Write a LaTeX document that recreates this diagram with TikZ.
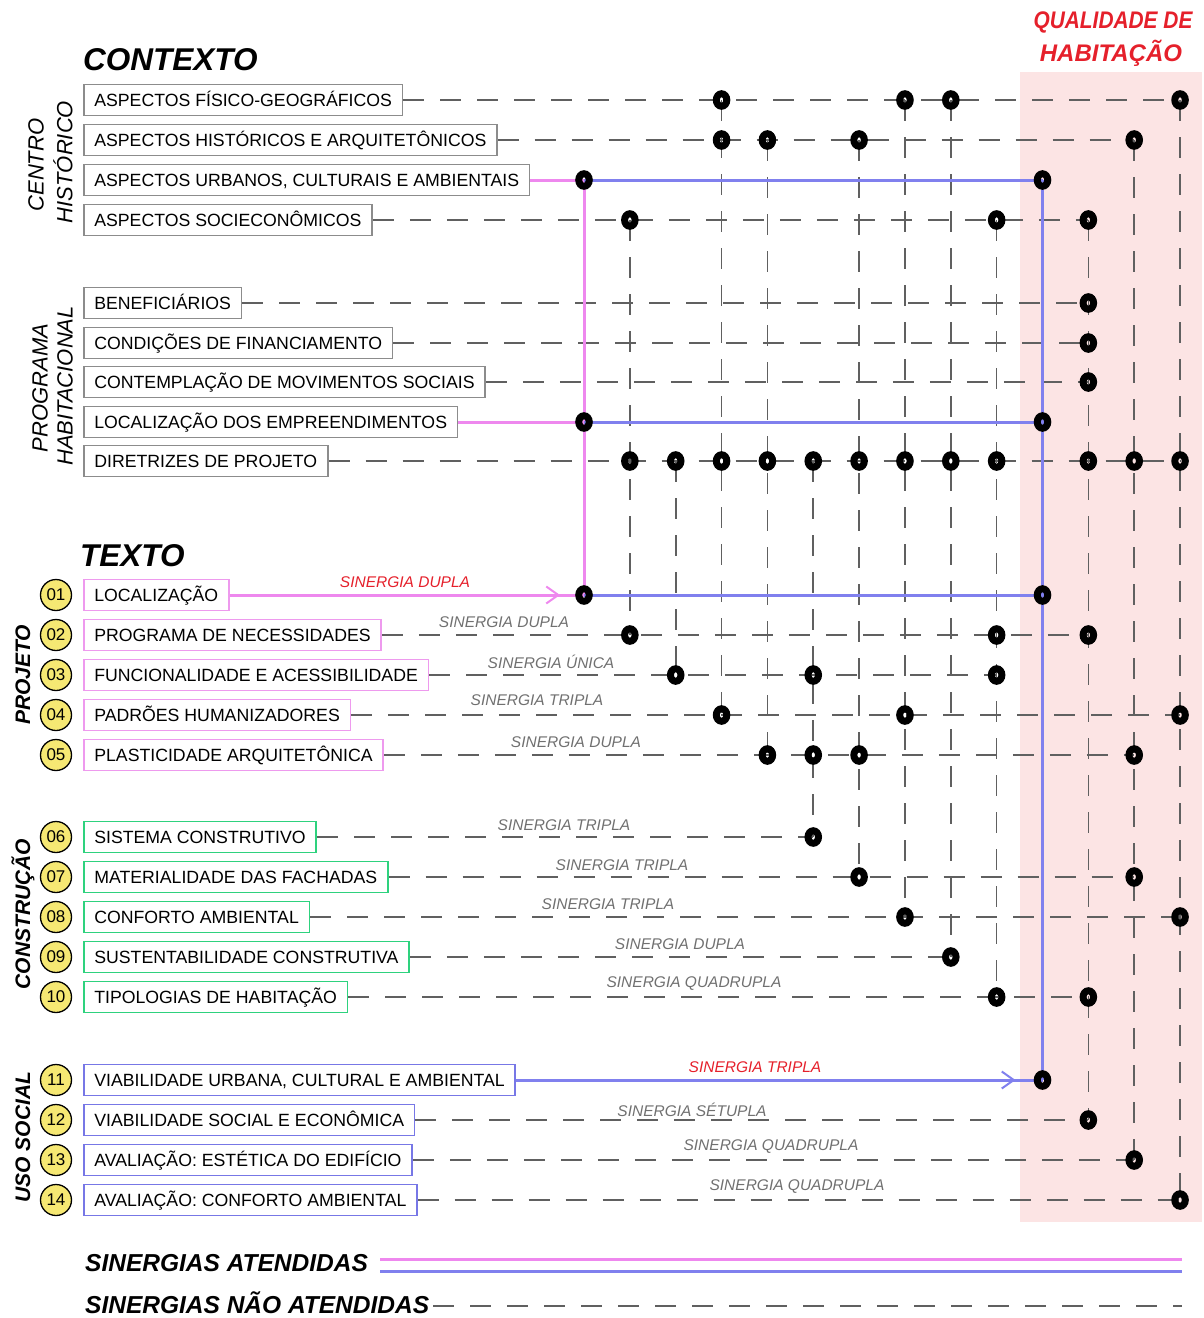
\documentclass[tikz,border=0pt]{standalone}
\usepackage{fontspec}
\setmainfont{Liberation Sans}
\usepackage{graphicx}
\usetikzlibrary{shapes.geometric,arrows.meta,decorations.markings}
\pgfdeclarelayer{bg}
\pgfdeclarelayer{lines}
\pgfsetlayers{bg,lines,main}
\definecolor{pinkL}{HTML}{EE88EE}
\definecolor{blueL}{HTML}{8080EE}
\definecolor{pinkB}{HTML}{EE9AEE}
\definecolor{blueB}{HTML}{7777E6}
\definecolor{greenB}{HTML}{2ED27E}
\definecolor{grayB}{HTML}{8C8C8C}
\definecolor{dashG}{HTML}{606060}
\definecolor{synG}{HTML}{707070}
\definecolor{redT}{HTML}{E5202B}
\definecolor{bgPink}{HTML}{FCE4E4}
\definecolor{yel}{HTML}{F6E873}
\begin{document}
\begin{tikzpicture}[x=1pt,y=-1pt,
  box/.style={draw, line width=1.6pt, anchor=west, inner xsep=10.5pt, inner ysep=0pt, minimum height=31pt, text height=12.7pt, text depth=0pt, font=\fontsize{17.7}{20}\selectfont},
  ctx/.style={box, draw=grayB},
  proj/.style={box, draw=pinkB},
  cons/.style={box, draw=greenB},
  uso/.style={box, draw=blueB},
  dot/.style={ellipse, draw=black, line width=7pt, minimum width=10.5pt, minimum height=12.5pt, inner sep=0pt, outer sep=0pt},
  numc/.style={ellipse, draw=black, line width=1.3pt, fill=yel, minimum width=31pt, minimum height=31pt, inner sep=0pt, font=\fontsize{17}{20}\selectfont},
  syn/.style={font=\fontsize{15.5}{18}\selectfont\itshape, text=synG, inner sep=0pt},
  synr/.style={syn, text=redT},
  dsh/.style={draw=dashG, line width=1.6pt, dash pattern=on 21pt off 16pt},
  pk/.style={draw=pinkL, line width=3pt},
  bl/.style={draw=blueL, line width=3pt},
  grp/.style={rotate=90, font=\fontsize{22}{24}\selectfont\itshape, inner sep=0pt},
  grpb/.style={rotate=90, font=\fontsize{21}{24}\selectfont\bfseries\itshape, inner sep=0pt},
  ttl/.style={font=\fontsize{31.5}{34}\selectfont\bfseries\itshape, inner sep=0pt, anchor=west},
  legt/.style={font=\fontsize{24.5}{28}\selectfont\bfseries\itshape, inner sep=0pt, anchor=base west},
  arrmark/.style={postaction={decorate}, decoration={markings, mark=at position #1 with {\arrow{Straight Barb[length=12pt,width=17pt,line width=2pt]}}}},
]
\useasboundingbox (0,0) rectangle (1204,1318);
\begin{pgfonlayer}{bg}
\fill[bgPink] (1020,72) rectangle (1202,1222);
\end{pgfonlayer}

% titles
\node[ttl] (tctx) at (83,60) {CONTEXTO};
\node[ttl] (ttxt) at (80,556) {TEXTO};
\node[font=\fontsize{24}{26}\selectfont\bfseries\itshape, text=redT, inner sep=0pt] (tq1) at (1113,22) {\scalebox{0.87}[1]{QUALIDADE DE}};
\node[font=\fontsize{24}{26}\selectfont\bfseries\itshape, text=redT, inner sep=0pt] (tq2) at (1111,53) {HABITAÇÃO};

% group labels
\node[grp] (gc1) at (36,165) {CENTRO};
\node[grp] (gc2) at (63,162) {HISTÓRICO};
\node[grp] (gp1) at (40,388) {PROGRAMA};
\node[grp] (gp2) at (65,386) {HABITACIONAL};
\node[grpb] (gproj) at (23,675) {PROJETO};
\node[grpb] (gcons) at (23,914) {CONSTRUÇÃO};
\node[grpb] (guso) at (23,1137) {USO SOCIAL};

% context boxes
\node[ctx] (A1) at (83,100) {ASPECTOS FÍSICO-GEOGRÁFICOS};
\node[ctx] (A2) at (83,140) {ASPECTOS HISTÓRICOS E ARQUITETÔNICOS};
\node[ctx] (A3) at (83,180) {ASPECTOS URBANOS, CULTURAIS E AMBIENTAIS};
\node[ctx] (A4) at (83,220) {ASPECTOS SOCIECONÔMICOS};
\node[ctx] (B1) at (83,303) {BENEFICIÁRIOS};
\node[ctx] (B2) at (83,343) {CONDIÇÕES DE FINANCIAMENTO};
\node[ctx] (B3) at (83,382) {CONTEMPLAÇÃO DE MOVIMENTOS SOCIAIS};
\node[ctx] (B4) at (83,422) {LOCALIZAÇÃO DOS EMPREENDIMENTOS};
\node[ctx] (B5) at (83,461) {DIRETRIZES DE PROJETO};

% text boxes
\node[proj] (T01) at (83,595) {LOCALIZAÇÃO};
\node[proj] (T02) at (83,635) {PROGRAMA DE NECESSIDADES};
\node[proj] (T03) at (83,675) {FUNCIONALIDADE E ACESSIBILIDADE};
\node[proj] (T04) at (83,715) {PADRÕES HUMANIZADORES};
\node[proj] (T05) at (83,755) {PLASTICIDADE ARQUITETÔNICA};
\node[cons] (T06) at (83,837) {SISTEMA CONSTRUTIVO};
\node[cons] (T07) at (83,877) {MATERIALIDADE DAS FACHADAS};
\node[cons] (T08) at (83,917) {CONFORTO AMBIENTAL};
\node[cons] (T09) at (83,957) {SUSTENTABILIDADE CONSTRUTIVA};
\node[cons] (T10) at (83,997) {TIPOLOGIAS DE HABITAÇÃO};
\node[uso] (T11) at (83,1080) {VIABILIDADE URBANA, CULTURAL E AMBIENTAL};
\node[uso] (T12) at (83,1120) {VIABILIDADE SOCIAL E ECONÔMICA};
\node[uso] (T13) at (83,1160) {AVALIAÇÃO: ESTÉTICA DO EDIFÍCIO};
\node[uso] (T14) at (83,1200) {AVALIAÇÃO: CONFORTO AMBIENTAL};

% number circles
\foreach \n/\y in {01/595,02/635,03/675,04/715,05/755,06/837,07/877,08/917,09/957,10/997,11/1080,12/1120,13/1160,14/1200}
  \node[numc] (n\n) at (56,\y) {\n};

% synergy labels
\node[synr] (s01) at (405,582) {SINERGIA DUPLA};
\node[syn] (s02) at (504,622) {SINERGIA DUPLA};
\node[syn] (s03) at (551,662) {SINERGIA ÚNICA};
\node[syn] (s04) at (537,700) {SINERGIA TRIPLA};
\node[syn] (s05) at (576,742) {SINERGIA DUPLA};
\node[syn] (s06) at (564,825) {SINERGIA TRIPLA};
\node[syn] (s07) at (622,865) {SINERGIA TRIPLA};
\node[syn] (s08) at (608,904) {SINERGIA TRIPLA};
\node[syn] (s09) at (680,944) {SINERGIA DUPLA};
\node[syn] (s10) at (694,984) {SINERGIA QUADRUPLA};
\node[synr] (s11) at (755,1067) {SINERGIA TRIPLA};
\node[syn] (s12) at (692,1110) {SINERGIA SÉTUPLA};
\node[syn] (s13) at (771,1147) {SINERGIA QUADRUPLA};
\node[syn] (s14) at (797,1187) {SINERGIA QUADRUPLA};

% dots
\foreach \r/\y/\cl in {A1/100/{3,7,8,13}, A2/140/{3,4,6,12}, A3/180/{0,10}, A4/220/{1,9,11},
  B1/303/{11}, B2/343/{11}, B3/382/{11}, B4/422/{0,10}, B5/461/{1,2,3,4,5,6,7,8,9,11,12,13},
  T01/595/{0,10}, T02/635/{1,9,11}, T03/675/{2,5,9}, T04/715/{3,7,13}, T05/755/{4,5,6,12},
  T06/837/{5}, T07/877/{6,12}, T08/917/{7,13}, T09/957/{8}, T10/997/{9,11},
  T11/1080/{10}, T12/1120/{11}, T13/1160/{12}, T14/1200/{13}}{
  \foreach \c in \cl {
    \pgfmathsetmacro{\xx}{584+45.85*\c}
    \node[dot] (d-\r-\c) at (\xx,\y) {};
  }
}

% legend
\node[legt] (leg1) at (85,1271) {SINERGIAS ATENDIDAS};
\node[legt] (leg2) at (85,1313) {SINERGIAS NÃO ATENDIDAS};
\coordinate (lp1) at (380,1259);
\coordinate (lp2) at (1182,1259);
\coordinate (lb1) at (380,1271);
\coordinate (lb2) at (1182,1271);
\coordinate (ld2) at (1182,1306);

\begin{pgfonlayer}{lines}
\foreach \r/\c in {A1/13, A2/12, A4/11, B1/11, B2/11, B3/11, B5/13, T02/11, T03/9, T04/13, T05/12, T06/5, T07/12, T08/13, T09/8, T10/11, T12/11, T13/12, T14/13}
  \draw[dsh] (\r.east) -- (d-\r-\c.center);
\foreach \c/\a/\b in {1/A4/T02, 2/B5/T03, 3/A1/T04, 4/A2/T05, 5/B5/T06, 6/A2/T07, 7/A1/T08, 8/A1/T09, 9/A4/T10, 11/A4/T12, 12/A2/T13, 13/A1/T14}
  \draw[dsh] (d-\a-\c.center) -- (d-\b-\c.center);
% attended synergies
\draw[pk] (A3.east) -- (d-A3-0.center);
\draw[pk] (B4.east) -- (d-B4-0.center);
\draw[pk, arrmark=-24pt] (T01.east) -- (d-T01-0.center);
\draw[pk] (d-A3-0.center) -- (d-T01-0.center);
\draw[bl] (d-A3-0.center) -- (d-A3-10.center);
\draw[bl] (d-B4-0.center) -- (d-B4-10.center);
\draw[bl] (d-T01-0.center) -- (d-T01-10.center);
\draw[bl, arrmark=-27pt] (T11.east) -- (d-T11-10.center);
\draw[bl] (d-A3-10.center) -- (d-T11-10.center);
% legend lines
\draw[pk] (lp1) -- (lp2);
\draw[bl] (lb1) -- (lb2);
\draw[dsh] ([xshift=4pt]leg2.east |- ld2) -- (ld2);
\end{pgfonlayer}
\end{tikzpicture}
\end{document}
